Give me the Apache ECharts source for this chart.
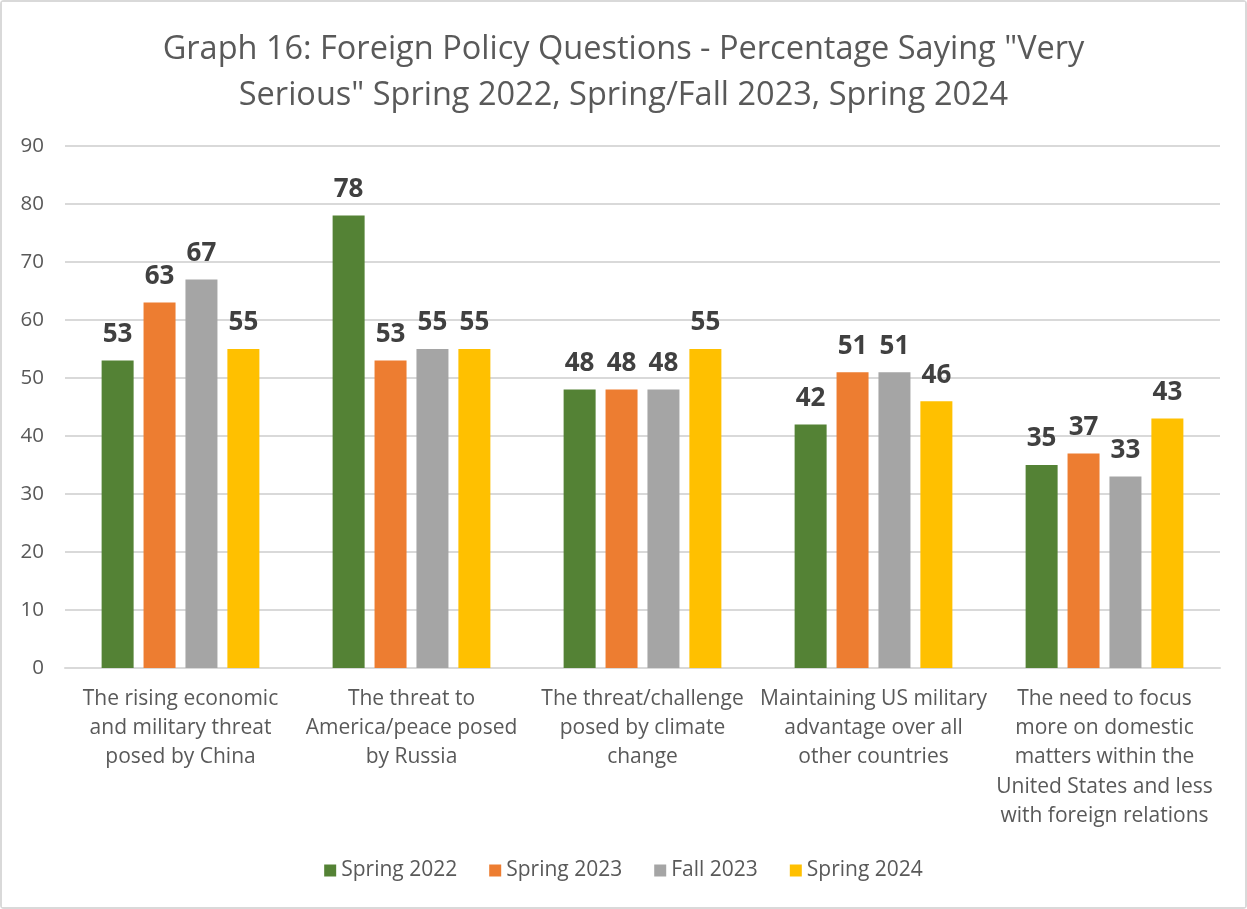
<!DOCTYPE html>
<html>
<head>
<meta charset="utf-8">
<script src="https://cdn.jsdelivr.net/npm/echarts@6/dist/echarts.min.js"></script>
<style>
  html, body { margin: 0; padding: 0; background: #fff; }
  #chart { width: 1243px; height: 905px; border: 2px solid #d9d9d9; border-radius: 4px; }
</style>
</head>
<body>
<div id="chart"></div>
<script>
var categories = [
    'The rising economic\nand military threat\nposed by China',
    'The threat to\nAmerica/peace posed\nby Russia',
    'The threat/challenge\nposed by climate\nchange',
    'Maintaining US military\nadvantage over all\nother countries',
    'The need to focus\nmore on domestic\nmatters within the\nUnited States and less\nwith foreign relations'
];
var seriesNames = ['Spring 2022', 'Spring 2023', 'Fall 2023', 'Spring 2024'];
var spring2022 = [53, 78, 48, 42, 35];
var spring2023 = [63, 53, 48, 51, 37];
var fall2023 = [67, 55, 48, 51, 33];
var spring2024 = [55, 55, 55, 46, 43];
var colors = ['#548235', '#ED7D31', '#A5A5A5', '#FFC000'];

var font = '"Open Sans", "Noto Sans", sans-serif';
var allData = [spring2022, spring2023, fall2023, spring2024];

var chart = echarts.init(document.getElementById('chart'));
var series = [];
for (var i = 0; i < seriesNames.length; i++) {
    series.push({
        name: seriesNames[i],
        type: 'bar',
        barWidth: 32,
        barGap: '31%',
        itemStyle: { color: colors[i] },
        label: {
            show: true,
            position: 'top',
            distance: 13,
            fontFamily: font,
            fontSize: 26,
            fontWeight: 'bold',
            color: '#404040'
        },
        data: allData[i]
    });
}

var option = {
    animation: false,
    backgroundColor: '#fff',
    color: colors,
    title: {
        text: 'Graph 16: Foreign Policy Questions - Percentage Saying "Very\nSerious" Spring 2022, Spring/Fall 2023, Spring 2024',
        left: 'center',
        top: 20,
        textStyle: {
            fontFamily: font,
            fontSize: 32.5,
            fontWeight: 'normal',
            color: '#595959',
            lineHeight: 46
        }
    },
    legend: {
        data: seriesNames,
        bottom: 21,
        left: 'center',
        icon: 'rect',
        itemWidth: 12,
        itemHeight: 12,
        itemGap: 32,
        textStyle: { fontFamily: font, fontSize: 21, color: '#595959' }
    },
    grid: { left: 63, right: 25, top: 144, bottom: 239 },
    xAxis: {
        type: 'category',
        data: categories,
        axisLine: { lineStyle: { color: '#d9d9d9', width: 2 } },
        axisTick: { show: false },
        axisLabel: {
            interval: 0,
            margin: 16,
            fontFamily: font,
            fontSize: 21,
            lineHeight: 29.3,
            color: '#595959'
        }
    },
    yAxis: {
        type: 'value',
        min: 0,
        max: 90,
        interval: 10,
        axisLine: { show: false },
        axisTick: { show: false },
        axisLabel: { margin: 21, fontFamily: font, fontSize: 20.5, color: '#595959' },
        splitLine: { lineStyle: { color: '#d9d9d9', width: 2 } }
    },
    series: series
};
chart.setOption(option);
</script>
</body>
</html>
